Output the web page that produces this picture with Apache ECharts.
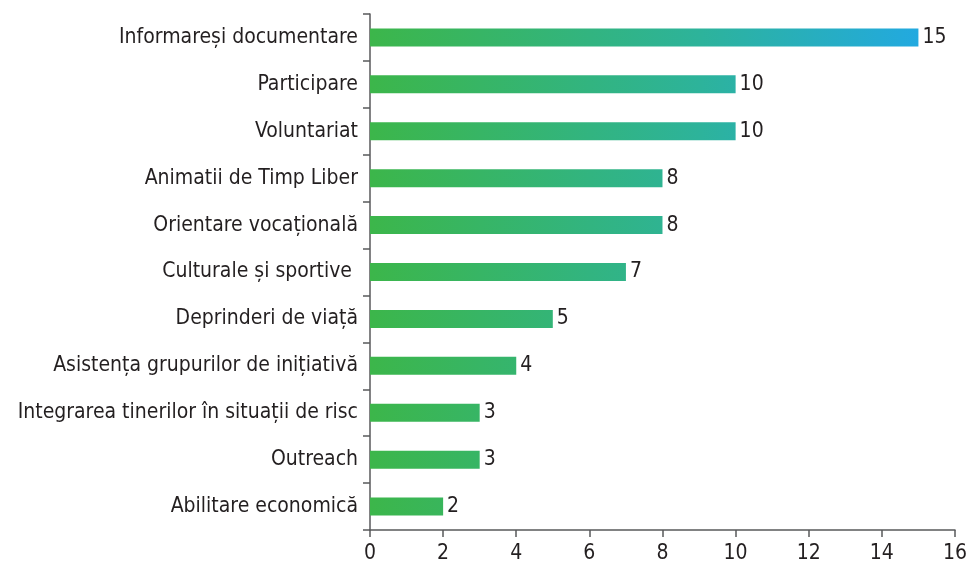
<!DOCTYPE html>
<html>
<head>
<meta charset="utf-8">
<script src="https://cdn.jsdelivr.net/npm/echarts@6/dist/echarts.min.js"></script>
<style>
  html, body { margin: 0; padding: 0; background: #fff; }
  #chart { width: 970px; height: 570px; }
</style>
</head>
<body>
<div id="chart"></div>
<script>
// data, top to bottom as drawn
const categories = [
  'Informareși documentare',
  'Participare',
  'Voluntariat',
  'Animatii de Timp Liber',
  'Orientare vocațională',
  'Culturale și sportive ',
  'Deprinderi de viață',
  'Asistența grupurilor de inițiativă',
  'Integrarea tinerilor în situații de risc',
  'Outreach',
  'Abilitare economică'
]
const values = [15, 10, 10, 8, 8, 7, 5, 4, 3, 3, 2]
const xTicks = [0, 2, 4, 6, 8, 10, 12, 14, 16]

const font = '"DejaVu Sans Condensed", "Liberation Sans Narrow", Roboto, sans-serif'
const textColor = '#231f20'

const chart = echarts.init(document.getElementById('chart'))

// gradient is shared across the whole axis, so shorter bars stay greener
const barColor = new echarts.graphic.LinearGradient(370, 0, 922, 0, [
  { offset: 0, color: '#3cb64a' },
  { offset: 0.6, color: '#2db39b' },
  { offset: 1, color: '#22a9e1' }
], true)

const option = {
  animation: false,
  grid: { left: 370, right: 11, top: 14, bottom: 40, containLabel: false },
  xAxis: {
    type: 'value',
    min: xTicks[0],
    max: xTicks[xTicks.length - 1],
    interval: 2,
    axisLine: { show: true, lineStyle: { color: '#58595b', width: 1.5 } },
    axisTick: { show: true, length: 7, lineStyle: { color: '#58595b', width: 1.5 } },
    axisLabel: { color: textColor, fontFamily: font, fontSize: 21, margin: 13 },
    splitLine: { show: false }
  },
  yAxis: {
    type: 'category',
    inverse: true,
    data: categories,
    axisLine: { show: true, lineStyle: { color: '#58595b', width: 1.5 } },
    axisTick: { show: true, length: 7, lineStyle: { color: '#58595b', width: 1.5 } },
    axisLabel: { color: textColor, fontFamily: font, fontSize: 21, margin: 12 }
  },
  series: [{
    type: 'bar',
    data: values,
    barWidth: 18,
    itemStyle: { color: barColor },
    label: {
      show: true,
      position: 'right',
      distance: 4,
      color: textColor,
      fontFamily: font,
      fontSize: 21
    }
  }]
}
chart.setOption(option)
</script>
</body>
</html>
